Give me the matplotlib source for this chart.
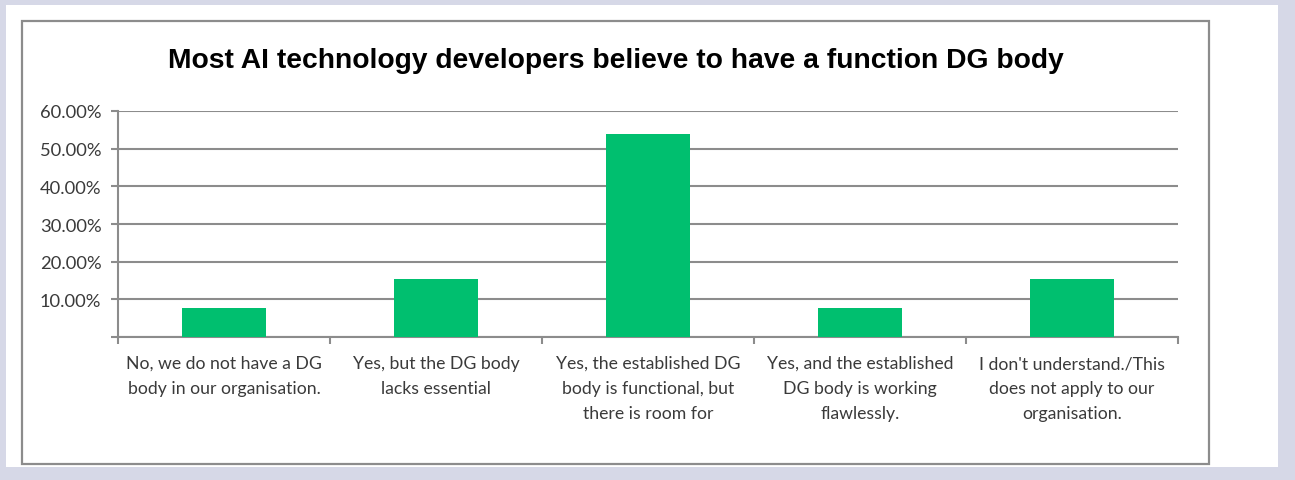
import numpy as np
import matplotlib
matplotlib.use("Agg")
import matplotlib.pyplot as plt
from matplotlib.patches import Rectangle
from matplotlib.ticker import FuncFormatter, FixedLocator

TITLE = "Most AI technology developers believe to have a function DG body"
CATEGORIES = [
    "No, we do not have a DG\nbody in our organisation.",
    "Yes, but the DG body\nlacks essential",
    "Yes, the established DG\nbody is functional, but\nthere is room for",
    "Yes, and the established\nDG body is working\nflawlessly.",
    "I don't understand./This\ndoes not apply to our\norganisation.",
]
SHARES = [0.0769, 0.1538, 0.5385, 0.0769, 0.1538]
Y_TICKS = [0.0, 0.1, 0.2, 0.3, 0.4, 0.5, 0.6]

W, H = 1295, 481
fig = plt.figure(figsize=(W / 100, H / 100), dpi=100, facecolor="#d6d8e7")


def px_rect(x0, y0, x1, y1, **kw):
    # pixel coords measured from the top-left corner
    fig.patches.append(Rectangle((x0 / W, 1 - y1 / H), (x1 - x0) / W, (y1 - y0) / H,
                                 transform=fig.transFigure, **kw))


px_rect(6, 6, 1278, 468, facecolor="white", edgecolor="none", zorder=-2)
px_rect(22, 22, 1209, 465, facecolor="white", edgecolor="#8c8c8c", linewidth=1.6, zorder=-1)

ax = fig.add_axes([118 / W, 1 - 338 / H, 1060 / W, 226 / H])
ax.set_facecolor("none")

x = np.arange(len(CATEGORIES))
ax.bar(x, SHARES, width=0.4, color="#00bf6f", zorder=3)

ax.set_xlim(-0.5, len(CATEGORIES) - 0.5)
ax.set_ylim(0, 0.6)

grey = "#8c8c8c"
ax.yaxis.set_major_locator(FixedLocator(Y_TICKS))
ax.yaxis.set_major_formatter(FuncFormatter(lambda v, p: "" if v == 0 else f"{v * 100:.2f}%"))
ax.grid(axis="y", color=grey, linewidth=1.5, zorder=1)
ax.set_axisbelow(True)

ax.set_xticks(x)
ax.set_xticklabels(CATEGORIES, multialignment="center", linespacing=1.68)
ax.set_xticks(np.arange(-0.5, len(CATEGORIES)), minor=True)
ax.tick_params(axis="x", which="major", length=0, pad=13)
ax.tick_params(axis="x", which="minor", length=5, width=1.5, color=grey, direction="out")
ax.tick_params(axis="y", length=5, width=1.5, color=grey, pad=7)
for lab in ax.get_xticklabels() + ax.get_yticklabels():
    lab.set_fontfamily("Lato")
    lab.set_fontsize(12.7)
    lab.set_color("#3a3a3a")
for lab in ax.get_yticklabels():
    lab.set_fontsize(13.2)

for side in ("top", "right"):
    ax.spines[side].set_visible(False)
for side in ("left", "bottom"):
    ax.spines[side].set_color(grey)
    ax.spines[side].set_linewidth(1.5)

fig.text(616 / W, 1 - 61 / H, TITLE, ha="center", va="center",
         fontfamily="Liberation Sans", fontweight="bold", fontsize=20.3, color="black")

fig.savefig("out.png", dpi=100, facecolor=fig.get_facecolor())
